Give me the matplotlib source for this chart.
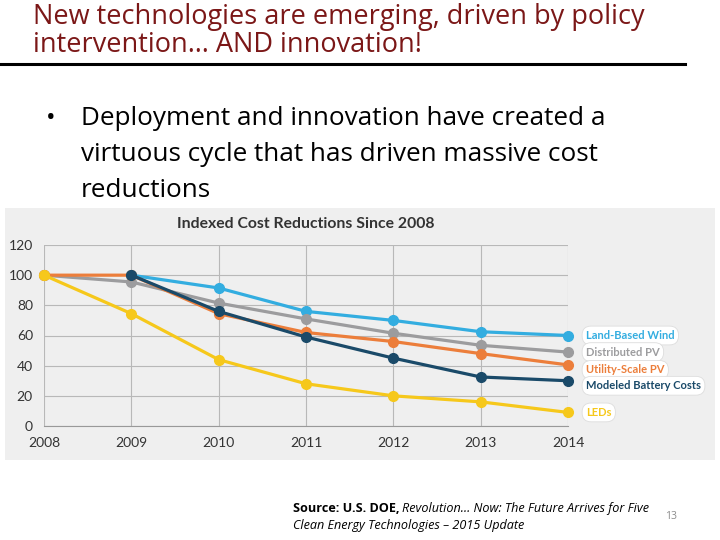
import numpy as np
import matplotlib.pyplot as plt
from matplotlib.patches import Rectangle

# data
years = [2008, 2009, 2010, 2011, 2012, 2013, 2014]
wind = [np.nan, 100, 91.5, 76, 70, 62.5, 60]
dist_pv = [100, 95.5, 81.5, 71, 61.5, 53.5, 49]
util_pv = [100, 100, 74.5, 62, 56, 48, 40.5]
battery = [np.nan, 100, 76, 59, 45, 32.5, 30]
leds = [100, 74.5, 44, 28, 20, 16, 9]

series_names = ['Land-Based Wind', 'Distributed PV', 'Utility-Scale PV',
                'Modeled Battery Costs', 'LEDs']
series_vals = [wind, dist_pv, util_pv, battery, leds]
colors = ['#33ade0', '#9c9c9e', '#ec7e3b', '#1a4a69', '#f6c81b']
label_dy = [0, 0, 5, 5, 0]   # pixel nudges of the end labels

W, H = 720, 540
fig = plt.figure(figsize=(W / 100, H / 100), dpi=100)
fig.patch.set_facecolor('white')

def fx(px):
    return px / W

def fy(py):
    return 1 - py / H

# slide title (one text, tight line spacing like the slide)
title_col = '#7b1717'
fig.text(fx(33), fy(3),
         'New technologies are emerging, driven by policy\nintervention\u2026 AND innovation!',
         fontsize=19.5, color=title_col, family='Open Sans', va='top',
         linespacing=0.98)
fig.add_artist(plt.Line2D([0, fx(685)], [fy(64), fy(64)], color='black',
                          lw=2.2, transform=fig.transFigure))

# bullet
fig.text(fx(46), fy(125), '\u2022', fontsize=18.5, family='Open Sans', va='baseline')
body = ['Deployment and innovation have created a',
        'virtuous cycle that has driven massive cost',
        'reductions']
for i, line in enumerate(body):
    fig.text(fx(81), fy(125 + 36 * i), line, fontsize=18.8,
             family='Open Sans', va='baseline')

# chart panel
fig.add_artist(Rectangle((fx(5), fy(460)), fx(710), (460 - 208) / H,
                         transform=fig.transFigure, facecolor='#efefef',
                         edgecolor='none', zorder=0))
fig.text(fx(306), fy(224), 'Indexed Cost Reductions Since 2008', fontsize=11.3,
         fontweight='bold', color='#333333', family='Lato', ha='center', va='center')

ax = fig.add_axes([fx(44), fy(426), fx(568 - 44), (426 - 245) / H])
ax.set_facecolor('#efefef')
ax.patch.set_alpha(0)
ax.set_xlim(2008, 2014)
ax.set_ylim(0, 120)
ax.set_xticks(years)
ax.set_yticks(range(0, 121, 20))
ax.grid(True, color='#b8b8b8', lw=0.8)
ax.set_axisbelow(True)
for s in ['top', 'right', 'left']:
    ax.spines[s].set_visible(False)
ax.spines['bottom'].set_color('#999999')
ax.tick_params(length=0, labelsize=10, labelcolor='#333333', pad=8)
for lab in ax.get_xticklabels() + ax.get_yticklabels():
    lab.set_family('Lato')

for name, vals, c, dy in zip(series_names, series_vals, colors, label_dy):
    ax.plot(years, vals, color=c, lw=2.3, marker='o', ms=7, clip_on=False)
    ax.annotate(name, xy=(years[-1], vals[-1]), xytext=(18, -dy),
                textcoords='offset pixels', ha='left', va='center',
                fontsize=8, fontweight='bold', color=c, family='Lato',
                bbox=dict(boxstyle='round,pad=0.35,rounding_size=0.8',
                          fc='white', ec='#dddddd', lw=0.6),
                annotation_clip=False)

# source note
fig.canvas.draw()
r = fig.canvas.get_renderer()
t1 = fig.text(fx(293), fy(512), 'Source: U.S. DOE,', fontsize=9.1,
              fontweight='bold', family='Open Sans', va='baseline')
bb = t1.get_window_extent(r)
fig.text(bb.x1 / W + fx(3), fy(512),
         'Revolution\u2026 Now: The Future Arrives for Five', fontsize=9.1,
         style='italic', family='Open Sans', va='baseline')
fig.text(fx(293), fy(529), 'Clean Energy Technologies \u2013 2015 Update',
         fontsize=9.1, style='italic', family='Open Sans', va='baseline')
fig.text(fx(665), fy(519), '13', fontsize=7.5, color='#8c8c8c',
         family='Open Sans', va='baseline')

fig.savefig('out.png', dpi=100)
